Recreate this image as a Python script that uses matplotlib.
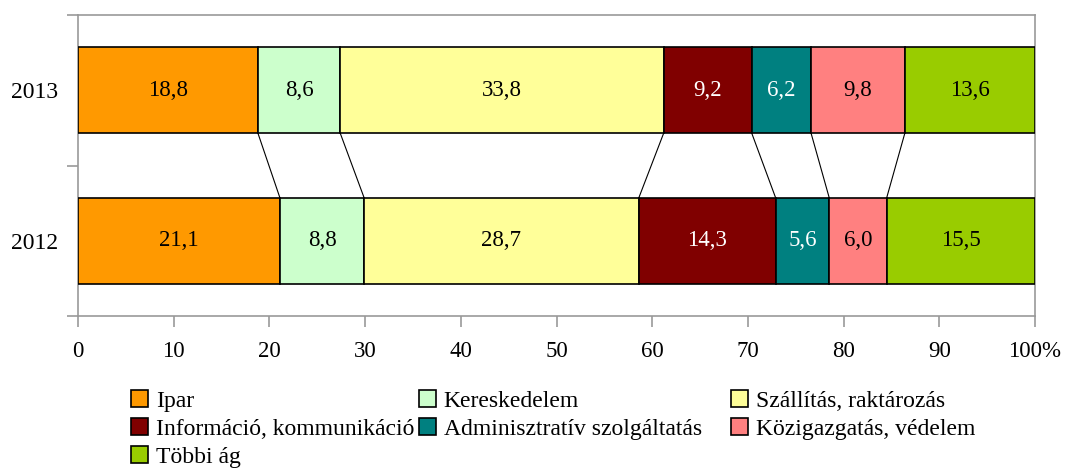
import matplotlib.pyplot as plt
import numpy as np

plt.rcParams['font.family'] = ['Liberation Serif', 'DejaVu Serif']

years = ['2012', '2013']
sectors = ['Ipar', 'Kereskedelem', 'Szállítás, raktározás',
           'Információ, kommunikáció', 'Adminisztratív szolgáltatás',
           'Közigazgatás, védelem', 'Többi ág']
v2012 = [21.1, 8.8, 28.7, 14.3, 5.6, 6.0, 15.5]
v2013 = [18.8, 8.6, 33.8, 9.2, 6.2, 9.8, 13.6]
colors = ['#FF9900', '#CCFFCC', '#FFFF99', '#800000', '#008080', '#FF8080', '#99CC00']
text_colors = ['black', 'black', 'black', 'white', 'white', 'black', 'black']

fig = plt.figure(figsize=(10.76, 4.68), dpi=100)
ax = fig.add_axes([78 / 1076, 1 - 316 / 468, (1035 - 78) / 1076, (316 - 15) / 468])

h = 0.57
data = np.array([v2012, v2013])
left = np.zeros(2)
handles = []
for i, name in enumerate(sectors):
    b = ax.barh([0, 1], data[:, i], left=left, height=h, color=colors[i],
                edgecolor='black', linewidth=1.2, label=name, zorder=3)
    handles.append(b)
    for j in range(2):
        ax.text(left[j] + data[j, i] / 2, j, f'{data[j, i]:.1f}'.replace('.', ','),
                ha='center', va='center', fontsize=16.5, color=text_colors[i], zorder=4)
    left = left + data[:, i]

# series lines between the bars
c12 = np.cumsum(v2012)[:-1]
c13 = np.cumsum(v2013)[:-1]
for a, b in zip(c13, c12):
    ax.plot([a, b], [1 - h / 2, h / 2], color='black', linewidth=0.8, zorder=2)

ax.set_xlim(0, 100)
ax.set_ylim(-0.5, 1.5)
ax.set_xticks(np.arange(0, 101, 10))
ax.set_xticklabels([str(t) for t in range(0, 100, 10)] + ['100%'], fontsize=16.5)
ax.set_yticks([0, 1])
ax.set_yticklabels(years, fontsize=17)
ax.set_yticks([-0.5, 0.5, 1.5], minor=True)
ax.tick_params(axis='y', which='major', length=0, pad=14)
ax.tick_params(axis='y', which='minor', length=8, color='#999999', width=1.2)
ax.tick_params(axis='x', length=8, color='#999999', width=1.2, pad=10)
for s in ax.spines.values():
    s.set_color('#999999')
    s.set_linewidth(1.2)

# legend: one column per legend, laid out row by row
columns = [[0, 3, 6], [1, 4], [2, 5]]
col_x = [131, 419, 731]
for idx, x in zip(columns, col_x):
    leg = fig.legend([handles[k] for k in idx], [sectors[k] for k in idx],
                     loc='upper left', bbox_to_anchor=(x / 1076, 1 - 390 / 468),
                     frameon=False, fontsize=17, handlelength=0.7, handleheight=0.7,
                     handletextpad=0.35, labelspacing=0.28,
                     borderpad=0, borderaxespad=0)

fig.savefig('out.png', dpi=100)
